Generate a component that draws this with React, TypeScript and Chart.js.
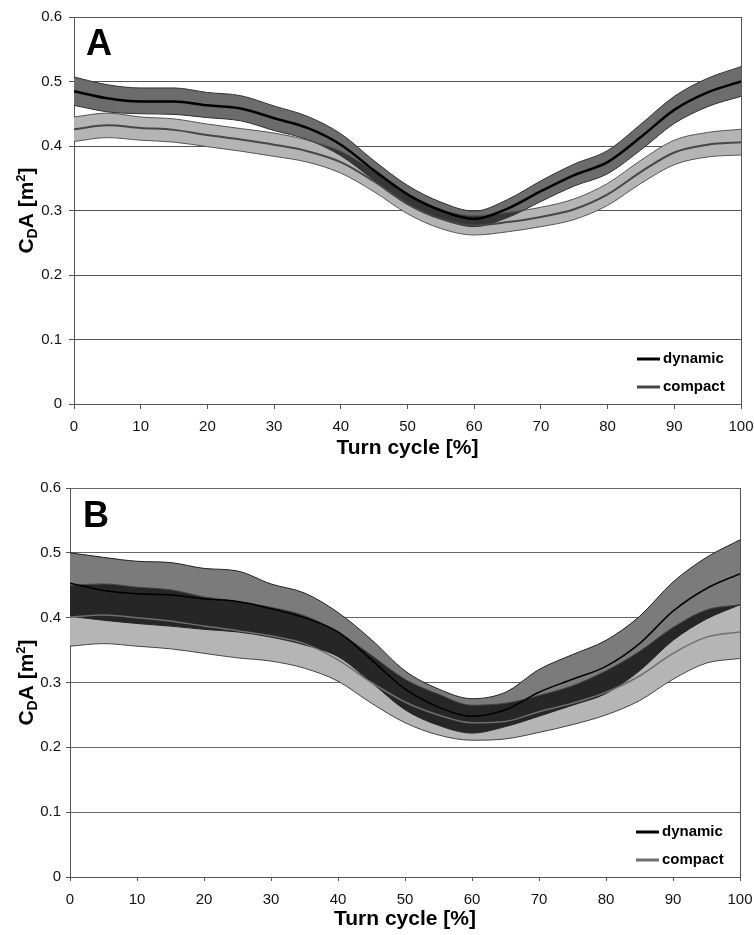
import React, { useEffect, useRef } from 'react';
import { Chart, registerables } from 'chart.js';

Chart.register(...registerables);

// ---------- data ----------
const turnCycle = [0, 5, 10, 15, 20, 25, 30, 35, 40, 45, 50, 55, 60, 65, 70, 75, 80, 85, 90, 95, 100];

// Panel A
const aDynamicMean = [0.485, 0.474, 0.469, 0.469, 0.463, 0.458, 0.443, 0.428, 0.402, 0.362, 0.325, 0.300, 0.287, 0.303, 0.330, 0.355, 0.375, 0.414, 0.456, 0.483, 0.500];
const aDynamicUpper = [0.507, 0.495, 0.490, 0.490, 0.483, 0.478, 0.462, 0.446, 0.419, 0.377, 0.339, 0.313, 0.299, 0.317, 0.346, 0.372, 0.393, 0.434, 0.477, 0.505, 0.523];
const aDynamicLower = [0.463, 0.453, 0.450, 0.449, 0.444, 0.439, 0.424, 0.410, 0.385, 0.347, 0.311, 0.287, 0.275, 0.289, 0.314, 0.338, 0.357, 0.394, 0.435, 0.461, 0.477];
const aCompactMean = [0.426, 0.432, 0.428, 0.425, 0.417, 0.410, 0.402, 0.392, 0.375, 0.345, 0.310, 0.287, 0.277, 0.282, 0.290, 0.302, 0.325, 0.360, 0.390, 0.402, 0.406];
const aCompactUpper = [0.445, 0.451, 0.445, 0.442, 0.434, 0.427, 0.420, 0.409, 0.392, 0.361, 0.325, 0.302, 0.292, 0.297, 0.305, 0.318, 0.342, 0.378, 0.409, 0.421, 0.426];
const aCompactLower = [0.407, 0.413, 0.409, 0.406, 0.399, 0.392, 0.384, 0.375, 0.358, 0.329, 0.295, 0.272, 0.262, 0.267, 0.275, 0.286, 0.308, 0.342, 0.371, 0.383, 0.386];

// Panel B
const bDynamicMean = [0.453, 0.442, 0.437, 0.435, 0.429, 0.425, 0.414, 0.400, 0.378, 0.335, 0.290, 0.262, 0.248, 0.258, 0.285, 0.305, 0.325, 0.360, 0.410, 0.445, 0.468];
const bDynamicUpper = [0.500, 0.493, 0.487, 0.485, 0.476, 0.472, 0.452, 0.438, 0.408, 0.366, 0.318, 0.290, 0.275, 0.285, 0.320, 0.343, 0.365, 0.402, 0.455, 0.493, 0.520];
const bDynamicLower = [0.402, 0.396, 0.391, 0.387, 0.382, 0.378, 0.370, 0.358, 0.340, 0.300, 0.258, 0.234, 0.222, 0.232, 0.248, 0.265, 0.283, 0.318, 0.365, 0.398, 0.420];
const bCompactMean = [0.401, 0.404, 0.400, 0.395, 0.387, 0.380, 0.372, 0.360, 0.335, 0.300, 0.270, 0.250, 0.238, 0.240, 0.255, 0.268, 0.285, 0.310, 0.345, 0.370, 0.378];
const bCompactUpper = [0.450, 0.452, 0.447, 0.443, 0.432, 0.425, 0.416, 0.403, 0.378, 0.342, 0.305, 0.282, 0.265, 0.268, 0.280, 0.295, 0.318, 0.348, 0.385, 0.412, 0.420];
const bCompactLower = [0.356, 0.360, 0.356, 0.352, 0.345, 0.338, 0.333, 0.322, 0.302, 0.268, 0.238, 0.219, 0.211, 0.213, 0.223, 0.235, 0.250, 0.272, 0.305, 0.330, 0.337];

const xTickLabels = ['0', '10', '20', '30', '40', '50', '60', '70', '80', '90', '100'];
const yTickLabels = ['0', '0.1', '0.2', '0.3', '0.4', '0.5', '0.6'];
const legendLabels = ['dynamic', 'compact'];
const panelLabels = ['A', 'B'];
const xTitle = 'Turn cycle [%]';

// ---------- styling ----------
const FONT = '"Liberation Sans", Arial, Helvetica, sans-serif';

const panelLabelPlugin = {
  id: 'panelLabel',
  afterDraw(chart: any, _a: any, opts: any) {
    const { ctx, chartArea } = chart;
    ctx.save();
    ctx.font = `bold 36px ${FONT}`;
    ctx.fillStyle = '#000';
    ctx.textBaseline = 'alphabetic';
    ctx.textAlign = 'left';
    ctx.fillText(opts.text, chartArea.left + opts.dx, chartArea.top + opts.dy);
    ctx.restore();
  },
};

const yTitlePlugin = {
  id: 'yTitleRich',
  afterDraw(chart: any, _a: any, opts: any) {
    const { ctx, chartArea } = chart;
    const parts = [
      { t: 'C', s: 21, dy: 0 },
      { t: 'D', s: 14, dy: 4 },
      { t: 'A', s: 21, dy: 0 },
      { t: ' [m', s: 21, dy: 0 },
      { t: '2', s: 13, dy: -8 },
      { t: ']', s: 21, dy: 0 },
    ];
    ctx.save();
    ctx.translate(opts.x, (chartArea.top + chartArea.bottom) / 2);
    ctx.rotate(-Math.PI / 2);
    ctx.fillStyle = '#000';
    ctx.textBaseline = 'alphabetic';
    ctx.textAlign = 'left';
    let total = 0;
    const widths = parts.map((p) => {
      ctx.font = `bold ${p.s}px ${FONT}`;
      const w = ctx.measureText(p.t).width;
      total += w;
      return w;
    });
    let x = -total / 2;
    parts.forEach((p, i) => {
      ctx.font = `bold ${p.s}px ${FONT}`;
      ctx.fillText(p.t, x, 7.5 + p.dy);
      x += widths[i];
    });
    ctx.restore();
  },
};

const legendPlugin = {
  id: 'insideLegend',
  afterDraw(chart: any, _a: any, opts: any) {
    const { ctx, chartArea } = chart;
    ctx.save();
    ctx.font = `bold 15px ${FONT}`;
    ctx.textBaseline = 'middle';
    ctx.textAlign = 'left';
    opts.items.forEach((it: any, i: number) => {
      const y = chartArea.bottom - 45 + i * 28;
      ctx.strokeStyle = it.color;
      ctx.lineWidth = 3;
      ctx.beginPath();
      ctx.moveTo(chartArea.right - 104, y);
      ctx.lineTo(chartArea.right - 81, y);
      ctx.stroke();
      ctx.fillStyle = '#000';
      ctx.fillText(it.label, chartArea.right - 78, y);
    });
    ctx.restore();
  },
};

type PanelStyle = {
  padTop: number; padRight: number; yWidth: number; xHeight: number;
  titlePadBottom: number; tickLen: number; xTickPad: number; yTickPad: number;
  compactFill: string; compactEdge: string; compactMean: string; compactMeanWidth: number;
  dynamicFill: string; dynamicEdge: string; dynamicMeanWidth: number; overlap: string;
  grid: string; labelDx: number; labelDy: number; yTitleX: number;
};

function buildChart(canvas: HTMLCanvasElement, label: string, d: any, st: PanelStyle) {
  const pts = (arr: number[]) => turnCycle.map((x, i) => ({ x, y: arr[i] }));
  const common = { pointRadius: 0, cubicInterpolationMode: 'monotone' as const };
  const datasets: any[] = [
    { label: 'compact lower', data: pts(d.cL), borderColor: st.compactEdge, borderWidth: 1, fill: false, order: 10, ...common },
    { label: 'compact upper', data: pts(d.cU), borderColor: st.compactEdge, borderWidth: 1, backgroundColor: st.compactFill, fill: '-1', order: 9, ...common },
    { label: 'dynamic lower', data: pts(d.dL), borderColor: st.dynamicEdge, borderWidth: 1, fill: false, order: 8, ...common },
    { label: 'dynamic upper', data: pts(d.dU), borderColor: st.dynamicEdge, borderWidth: 1, backgroundColor: st.dynamicFill, fill: '-1', order: 7, ...common },
    { label: 'overlap', data: pts(d.cU), borderWidth: 0, borderColor: 'rgba(0,0,0,0)', fill: { target: 2, above: st.overlap, below: 'rgba(0,0,0,0)' }, order: 6, ...common },
    { label: legendLabels[1], data: pts(d.cM), borderColor: st.compactMean, borderWidth: st.compactMeanWidth, fill: false, order: 2, ...common },
    { label: legendLabels[0], data: pts(d.dM), borderColor: '#000', borderWidth: st.dynamicMeanWidth, fill: false, order: 1, ...common },
  ];
  return new Chart(canvas, {
    type: 'line',
    data: { datasets },
    plugins: [panelLabelPlugin, yTitlePlugin, legendPlugin],
    options: {
      animation: false,
      responsive: false,
      devicePixelRatio: 1,
      layout: { padding: { top: st.padTop, right: st.padRight, bottom: 0, left: 0 } },
      scales: {
        x: {
          type: 'linear', min: 0, max: 100,
          afterFit: (s: any) => { s.height = st.xHeight; s.paddingRight = 0; s.paddingLeft = 0; },
          border: { display: true, color: '#555', width: 1 },
          grid: {
            drawOnChartArea: true,
            color: (c: any) => (c.tick && c.tick.value === 100 ? '#555' : 'rgba(0,0,0,0)'),
            tickColor: '#555', tickLength: st.tickLen, lineWidth: 1,
          },
          ticks: {
            stepSize: 10, maxRotation: 0, autoSkip: false, padding: st.xTickPad,
            color: '#111', font: { family: FONT, size: 15 },
            callback: (_v: any, i: number) => xTickLabels[i],
          },
          title: {
            display: true, text: xTitle, color: '#000',
            font: { family: FONT, size: 21, weight: 'bold' },
            padding: { top: 0, bottom: st.titlePadBottom },
          },
        },
        y: {
          min: 0, max: 0.6,
          afterFit: (s: any) => { s.width = st.yWidth; },
          border: { display: true, color: '#555', width: 1 },
          grid: { color: st.grid, tickColor: '#555', tickLength: st.tickLen, lineWidth: 1 },
          ticks: {
            stepSize: 0.1, padding: st.yTickPad,
            color: '#111', font: { family: FONT, size: 15 },
            callback: (_v: any, i: number) => yTickLabels[i],
          },
        },
      },
      plugins: {
        legend: { display: false },
        tooltip: { enabled: false },
        filler: { drawTime: 'beforeDatasetsDraw' },
        panelLabel: { text: label, dx: st.labelDx, dy: st.labelDy },
        yTitleRich: { x: st.yTitleX },
        insideLegend: {
          items: [
            { label: legendLabels[0], color: '#000' },
            { label: legendLabels[1], color: st.compactMean },
          ],
        },
      } as any,
    } as any,
  });
}

export default function App() {
  const refA = useRef<HTMLCanvasElement>(null);
  const refB = useRef<HTMLCanvasElement>(null);

  useEffect(() => {
    const a = buildChart(
      refA.current!, panelLabels[0],
      { dM: aDynamicMean, dU: aDynamicUpper, dL: aDynamicLower, cM: aCompactMean, cU: aCompactUpper, cL: aCompactLower },
      {
        padTop: 17, padRight: 13, yWidth: 74, xHeight: 66, titlePadBottom: 9, tickLen: 5, xTickPad: 9, yTickPad: 7,
        compactFill: '#b4b4b4', compactEdge: '#555', compactMean: '#474747', compactMeanWidth: 2,
        dynamicFill: '#6c6c6c', dynamicEdge: '#333', dynamicMeanWidth: 2.5, overlap: '#363636',
        grid: '#555', labelDx: 12, labelDy: 38, yTitleX: 25.5,
      }
    );
    const b = buildChart(
      refB.current!, panelLabels[1],
      { dM: bDynamicMean, dU: bDynamicUpper, dL: bDynamicLower, cM: bCompactMean, cU: bCompactUpper, cL: bCompactLower },
      {
        padTop: 18, padRight: 14, yWidth: 70, xHeight: 58, titlePadBottom: 3, tickLen: 4, xTickPad: 10, yTickPad: 5,
        compactFill: '#b5b5b5', compactEdge: '#444', compactMean: '#6e6e6e', compactMeanWidth: 1.5,
        dynamicFill: '#7b7b7b', dynamicEdge: '#222', dynamicMeanWidth: 1.5, overlap: '#262626',
        grid: '#666', labelDx: 13, labelDy: 39, yTitleX: 25.5,
      }
    );
    return () => { a.destroy(); b.destroy(); };
  }, []);

  return (
    <div style={{ position: 'absolute', left: 0, top: 0, width: 754, height: 935, background: '#fff' }}>
      <canvas ref={refA} width={754} height={470} style={{ display: 'block', position: 'absolute', left: 0, top: 0 }} />
      <canvas ref={refB} width={754} height={465} style={{ display: 'block', position: 'absolute', left: 0, top: 470 }} />
    </div>
  );
}
